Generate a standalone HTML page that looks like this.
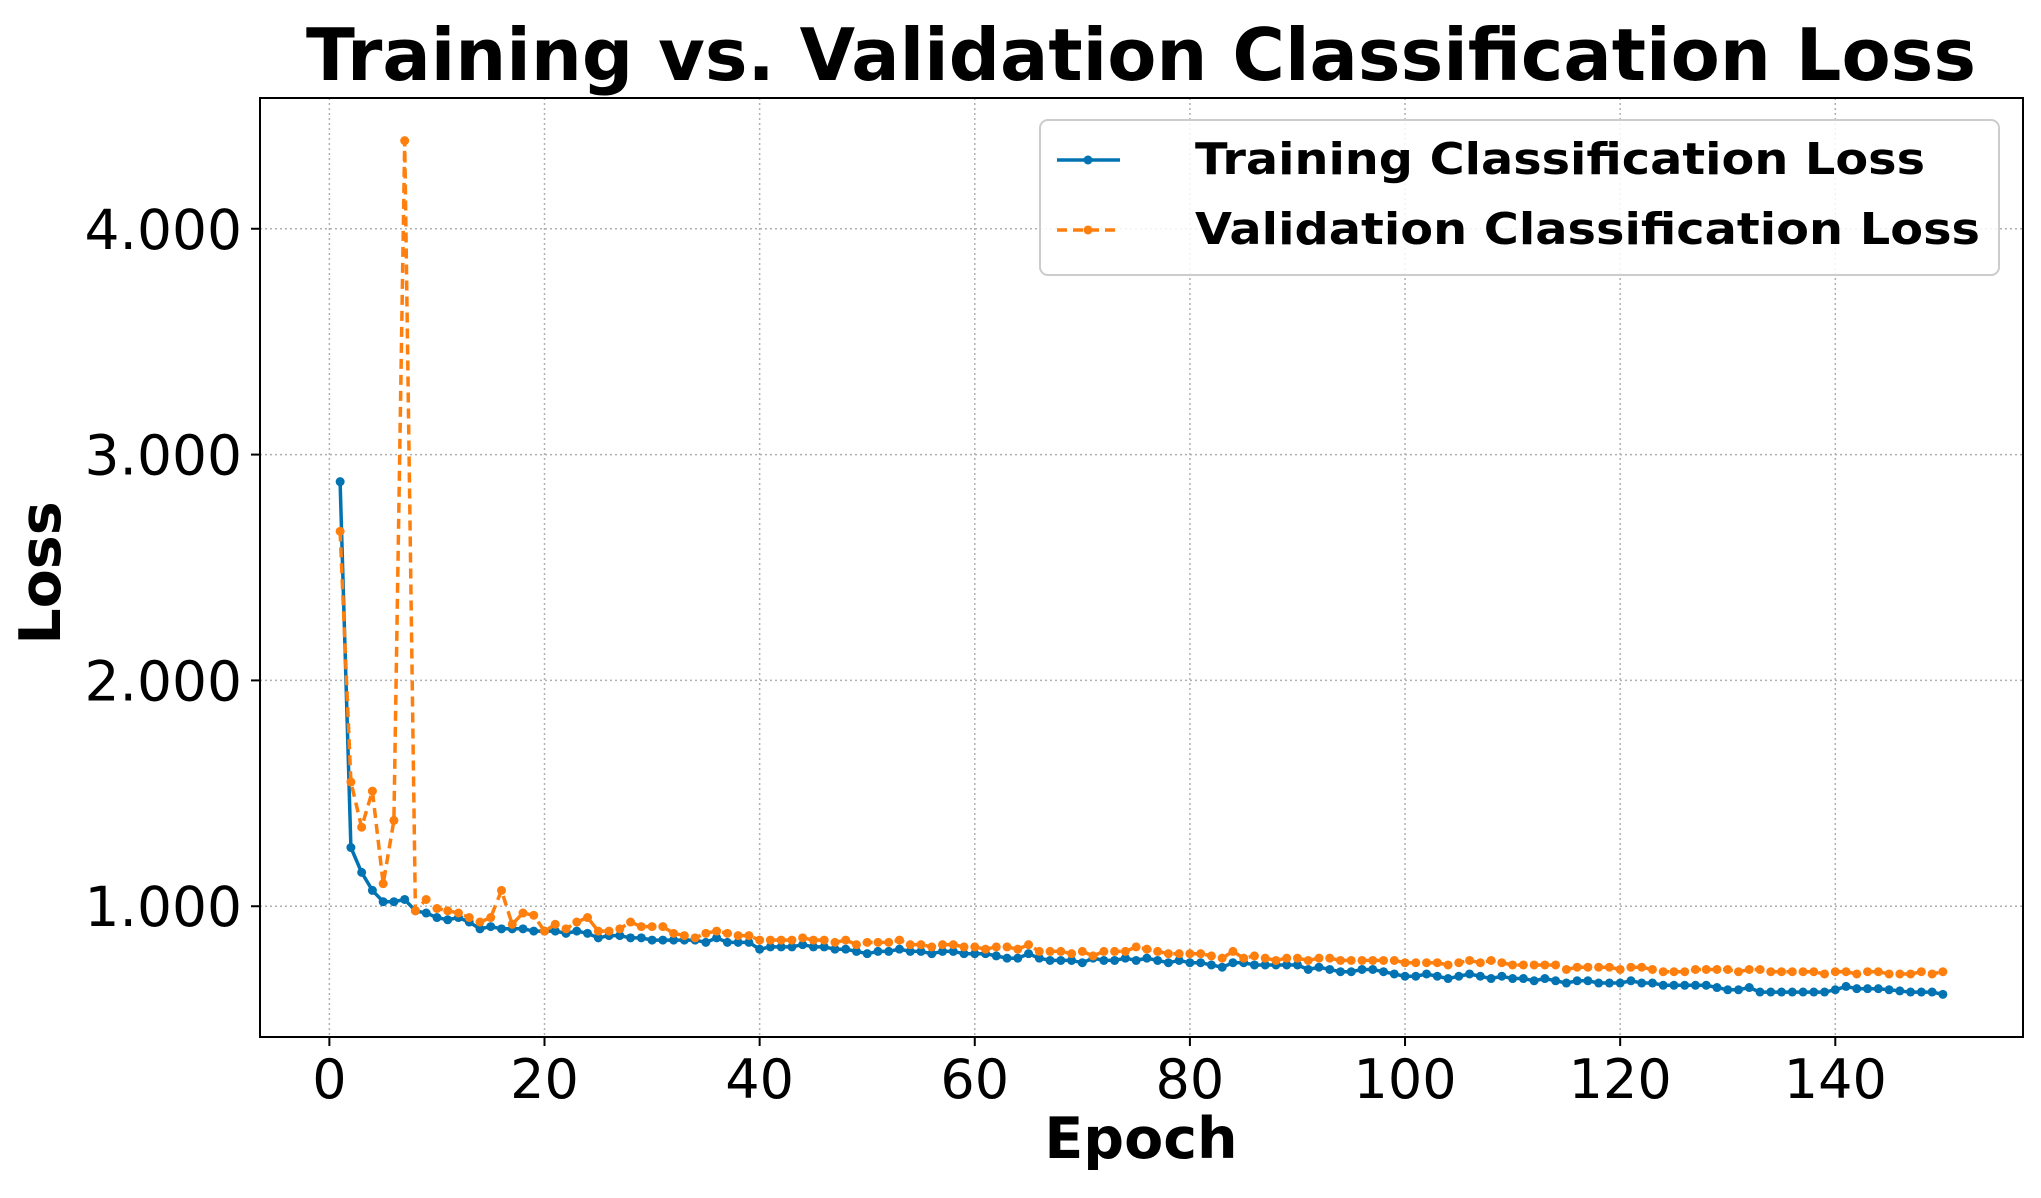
<!DOCTYPE html>
<html><head><meta charset="utf-8"><style>
html,body{margin:0;padding:0;background:#fff;}
svg{display:block;font-family:"DejaVu Sans","Liberation Sans",sans-serif;}
</style></head><body>
<svg id="chart" width="2041" height="1198" viewBox="0 0 2041 1198" xmlns="http://www.w3.org/2000/svg">
<rect width="2041" height="1198" fill="#fff"/>
<text x="1141" y="80" text-anchor="middle" font-weight="bold" font-size="72" textLength="1670" lengthAdjust="spacingAndGlyphs">Training vs. Validation Classification Loss</text>
<g id="grid"></g>
<g id="ticks"></g>
<g id="series"></g>
<rect x="260" y="98" width="1763" height="939" fill="none" stroke="#000" stroke-width="2"/>
<text x="1141" y="1158" text-anchor="middle" font-weight="bold" font-size="57">Epoch</text>
<text transform="translate(60,573) rotate(-90)" text-anchor="middle" font-weight="bold" font-size="57">Loss</text>
<g>
<rect x="1040" y="120" width="959" height="155" rx="8" fill="#fff" fill-opacity="0.85" stroke="#ccc" stroke-width="2"/>
<g>
<line x1="1057" y1="160" x2="1120" y2="160" stroke="#0173b2" stroke-width="3.5"/>
<circle cx="1088" cy="160" r="4.5" fill="#0173b2"/>
<text x="1195" y="174" font-weight="bold" font-size="44" textLength="730" lengthAdjust="spacingAndGlyphs">Training Classification Loss</text>
</g>
<g>
<line x1="1057" y1="230" x2="1120" y2="230" stroke="#ff7f0e" stroke-width="3.5" stroke-dasharray="10,6"/>
<circle cx="1088" cy="230" r="4.5" fill="#ff7f0e"/>
<text x="1195" y="244" font-weight="bold" font-size="44" textLength="785" lengthAdjust="spacingAndGlyphs">Validation Classification Loss</text>
</g>
</g>
</svg>
<script>
const trainLoss = [2.88,1.26,1.15,1.07,1.02,1.02,1.03,0.98,0.97,0.95,
0.94,0.95,0.93,0.90,0.91,0.90,0.90,0.90,0.89,0.89,
0.89,0.88,0.89,0.88,0.86,0.87,0.87,0.86,0.86,0.85,
0.85,0.85,0.85,0.85,0.84,0.86,0.84,0.84,0.84,0.81,
0.82,0.82,0.82,0.83,0.82,0.82,0.81,0.81,0.80,0.79,
0.80,0.80,0.81,0.80,0.80,0.79,0.80,0.80,0.79,0.79,
0.79,0.78,0.77,0.77,0.79,0.77,0.76,0.76,0.76,0.75,
0.77,0.76,0.76,0.77,0.76,0.77,0.76,0.75,0.76,0.75,
0.75,0.74,0.73,0.75,0.75,0.74,0.74,0.74,0.74,0.74,
0.72,0.73,0.72,0.71,0.71,0.72,0.72,0.71,0.70,0.69,
0.69,0.70,0.69,0.68,0.69,0.70,0.69,0.68,0.69,0.68,
0.68,0.67,0.68,0.67,0.66,0.67,0.67,0.66,0.66,0.66,
0.67,0.66,0.66,0.65,0.65,0.65,0.65,0.65,0.64,0.63,
0.63,0.64,0.62,0.62,0.62,0.62,0.62,0.62,0.62,0.63,
0.645,0.635,0.635,0.635,0.63,0.625,0.62,0.62,0.62,0.61];
const valLoss = [2.66,1.55,1.35,1.51,1.10,1.38,4.39,0.98,1.03,0.99,
0.98,0.97,0.95,0.93,0.95,1.07,0.92,0.97,0.96,0.89,
0.92,0.90,0.93,0.95,0.89,0.89,0.90,0.93,0.91,0.91,
0.91,0.88,0.87,0.86,0.88,0.89,0.88,0.87,0.87,0.85,
0.85,0.85,0.85,0.86,0.85,0.85,0.84,0.85,0.83,0.84,
0.84,0.84,0.85,0.83,0.83,0.82,0.83,0.83,0.82,0.82,
0.81,0.82,0.82,0.81,0.83,0.80,0.80,0.80,0.79,0.80,
0.78,0.80,0.80,0.80,0.82,0.81,0.80,0.79,0.79,0.79,
0.79,0.78,0.77,0.80,0.77,0.78,0.77,0.76,0.77,0.77,
0.76,0.77,0.77,0.76,0.76,0.76,0.76,0.76,0.76,0.75,
0.75,0.75,0.75,0.74,0.75,0.76,0.75,0.76,0.75,0.74,
0.74,0.74,0.74,0.74,0.72,0.73,0.73,0.73,0.73,0.72,
0.73,0.73,0.72,0.71,0.71,0.71,0.72,0.72,0.72,0.72,
0.71,0.72,0.72,0.71,0.71,0.71,0.71,0.71,0.70,0.71,
0.71,0.70,0.71,0.71,0.70,0.70,0.70,0.71,0.70,0.71];
const xTicks = [0,20,40,60,80,100,120,140];
const yTicks = [1,2,3,4];
const yTickLabels = ["1.000","2.000","3.000","4.000"];

const NS = "http://www.w3.org/2000/svg";
const L=260,R=2023,T=98,B=1037;
const n = trainLoss.length;
const xMin = 1-(n-1)*0.05, xMax = n+(n-1)*0.05;
const all = trainLoss.concat(valLoss);
const dMin = Math.min(...all), dMax = Math.max(...all);
const yMin = dMin-(dMax-dMin)*0.05, yMax = dMax+(dMax-dMin)*0.05;
function sx(v){return L+(v-xMin)/(xMax-xMin)*(R-L);}
function sy(v){return B-(v-yMin)/(yMax-yMin)*(B-T);}
function mk(tag,attrs,parent){const e=document.createElementNS(NS,tag);for(const k in attrs)e.setAttribute(k,attrs[k]);parent.appendChild(e);return e;}
const grid=document.getElementById('grid'), ticks=document.getElementById('ticks'), series=document.getElementById('series');
xTicks.forEach(t=>{
  const x=sx(t);
  const g=mk('line',{x1:x,x2:x,y1:T,y2:B,stroke:'#b0b0b0','stroke-width':1.5,'stroke-dasharray':'2,3'},grid);
  
  
  const tk=mk('line',{x1:x,x2:x,y1:B,y2:B+9,stroke:'#000','stroke-width':2},ticks);
  
  
  const lb=mk('text',{x:x,y:1098,'text-anchor':'middle','font-size':54},ticks);
  lb.textContent=String(t);
  
  
});
yTicks.forEach((t,i)=>{
  const y=sy(t);
  const g=mk('line',{x1:L,x2:R,y1:y,y2:y,stroke:'#b0b0b0','stroke-width':1.5,'stroke-dasharray':'2,3'},grid);
  
  
  const tk=mk('line',{x1:L-9,x2:L,y1:y,y2:y,stroke:'#000','stroke-width':2},ticks);
  
  
  const lb=mk('text',{x:L-18,y:y+20,'text-anchor':'end','font-size':55},ticks);
  lb.textContent=yTickLabels[i];
  
  
});
function draw(data,color,dash,name){
  const pts=data.map((v,i)=>sx(i+1).toFixed(1)+','+sy(v).toFixed(1)).join(' ');
  const pl=mk('polyline',{points:pts,fill:'none',stroke:color,'stroke-width':3.5,'stroke-linejoin':'round'},series);
  if(dash)pl.setAttribute('stroke-dasharray',dash);
  
  
  data.forEach((v,i)=>{
    const c=mk('circle',{cx:sx(i+1),cy:sy(v),r:4.5,fill:color},series);
    
    
  });
}
draw(trainLoss,'#0173b2',null,'training-loss');
draw(valLoss,'#ff7f0e','10,6','validation-loss');
</script>
</body></html>
